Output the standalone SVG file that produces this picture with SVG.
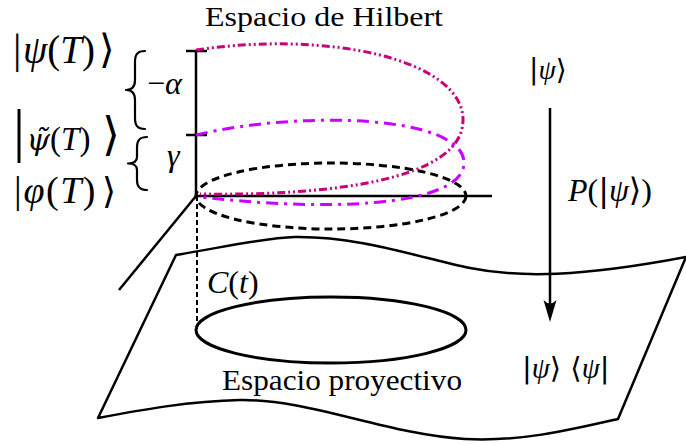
<svg xmlns="http://www.w3.org/2000/svg" width="686" height="445" viewBox="0 0 686 445">
<style>
text{font-family:"Liberation Serif","DejaVu Serif",serif;fill:#000}
.it{font-style:italic}
.dl{font-family:"DejaVu Sans","Liberation Sans",sans-serif;font-style:normal}
.bl{font-family:"DejaVu Sans","Liberation Sans",sans-serif;font-style:normal}
.bar{font-family:"Liberation Serif",serif;font-style:normal}
.dv{font-family:"DejaVu Serif",serif;font-style:italic}
.ln{fill:none;stroke:#000;stroke-width:2.5;stroke-linejoin:round}
.br{fill:none;stroke:#000;stroke-width:2.2;stroke-linejoin:round;stroke-linecap:round}
.th{fill:none;stroke:#000;stroke-width:3}
.dash{fill:none;stroke:#000;stroke-width:3;stroke-dasharray:8 5}
.vdash{fill:none;stroke:#000;stroke-width:2;stroke-dasharray:5 3}
.crim{fill:none;stroke:#c8007a;stroke-width:3;stroke-dasharray:8 3 2 3 2 3}
.viol{fill:none;stroke:#cc00ff;stroke-width:3;stroke-dasharray:12 6 3 6}
</style>
<defs>
<marker id="latex" viewBox="-23 -8 24 16" refX="-10" refY="0" markerWidth="24" markerHeight="16" markerUnits="userSpaceOnUse" orient="auto">
<path d="M0,0 L-22,-6.5 Q-15,0 -22,6.5 Z" fill="#000"/>
</marker>
</defs>

<g id="projective-plane">
<path class="ln" d="M176,255 C225,247 262,238 295,237 C360,236 420,258 470,268 C520,278 580,277 686,257 L618,419 C570,430 520,442 465,439 C385,434 310,399 240,400 C190,401 140,410 98,418 Z"/>
<ellipse class="th" cx="331" cy="330" rx="135" ry="33"/>
<text x="222" y="390" font-size="30" textLength="240" lengthAdjust="spacingAndGlyphs">Espacio proyectivo</text>
<text x="207" y="293" font-size="32"><tspan class="it">C</tspan>(<tspan class="it">t</tspan>)</text>
<text x="522" y="378" font-size="29"><tspan class="dl">|</tspan><tspan class="it">ψ</tspan><tspan class="dl">⟩ ⟨</tspan><tspan class="it">ψ</tspan><tspan class="dl">|</tspan></text>
</g>

<g id="hilbert-space">
<line class="ln" x1="196" y1="50" x2="196" y2="196"/>
<line class="ln" x1="186" y1="51" x2="207" y2="51"/>
<line class="ln" x1="186" y1="135" x2="207" y2="135"/>
<line class="ln" x1="196" y1="196" x2="492" y2="196"/>
<line class="ln" x1="196" y1="196" x2="119" y2="290"/>
<line class="vdash" x1="197" y1="196" x2="197" y2="330"/>
<ellipse class="dash" cx="331" cy="196" rx="135" ry="33"/>
<path class="crim" d="M196,50 C330,30 463,60 463,120 C463,180 330,196 200,194"/>
<path class="viol" d="M196,135 C300,110 464,115 464,163 C464,200 360,215 200,197"/>
<text x="205" y="26" font-size="27" textLength="238" lengthAdjust="spacingAndGlyphs">Espacio de Hilbert</text>
</g>

<g id="state-labels">
<text y="63" font-size="39"><tspan class="bar" x="13" font-size="42">|</tspan><tspan class="it" x="23">ψ</tspan>(<tspan class="it">T</tspan>)<tspan class="bl" x="99" font-size="40">⟩</tspan></text>
<text y="150" font-size="33"><tspan class="bar" x="13" font-size="60">|</tspan><tspan class="dv" x="26.5" font-size="30">ψ̃</tspan>(<tspan class="it">T</tspan>)<tspan class="bl" x="102" font-size="46">⟩</tspan></text>
<text y="203" font-size="38" letter-spacing="1.5"><tspan class="bar" x="14" font-size="38" letter-spacing="0">|</tspan><tspan class="it" x="23.5">φ</tspan>(<tspan class="it">T</tspan>)<tspan class="bl" x="102" font-size="36" letter-spacing="0">⟩</tspan></text>
</g>

<g id="phase-braces">
<path class="br" d="M145,51 C137,51 135,55 135,62 L135,80 C135,86 132,90 126,90 C132,90 135,94 135,100 L135,118 C135,125 137,129 145,129"/>
<path class="br" d="M147,137 C139,137 137,141 137,147 L137,157 C137,161 134,163.5 128,163.5 C134,163.5 137,166 137,170 L137,180 C137,186 139,190 147,190"/>
<text x="147" y="94" font-size="32">−<tspan class="it">α</tspan></text>
<text class="it" x="167" y="166" font-size="32">γ</text>
</g>

<g id="ket-label">
<text x="529" y="79" font-size="28"><tspan class="dl">|</tspan><tspan class="it">ψ</tspan><tspan class="dl">⟩</tspan></text>
</g>

<g id="connectors">
<line x1="550" y1="108" x2="550" y2="312" stroke="#000" stroke-width="2.5" marker-end="url(#latex)"/>
<text x="568" y="201" font-size="32"><tspan class="it">P</tspan>(<tspan class="dl">|</tspan><tspan class="it">ψ</tspan><tspan class="dl">⟩</tspan>)</text>
</g>
</svg>
